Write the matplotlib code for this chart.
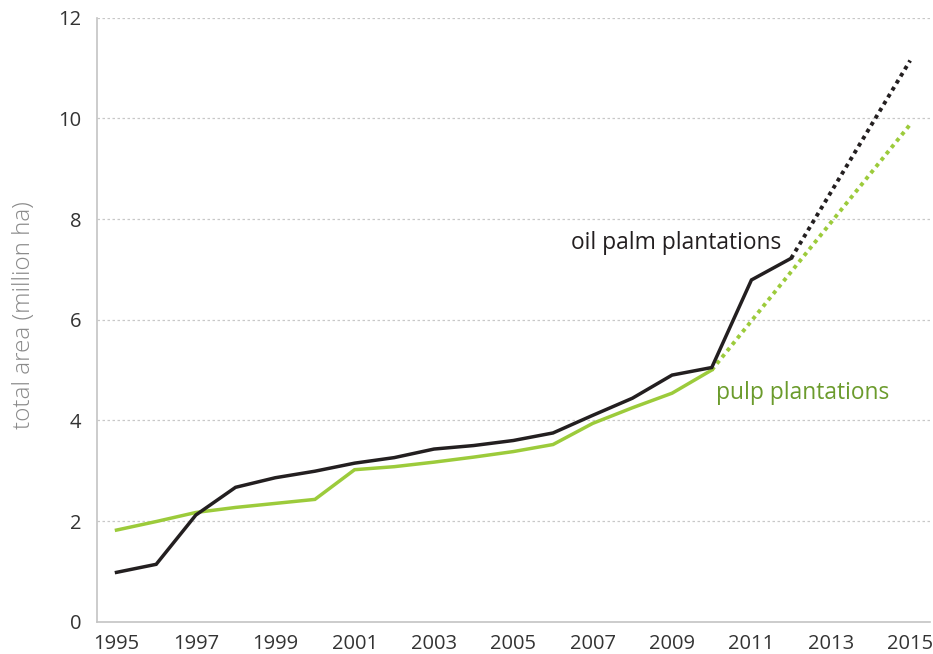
import numpy as np
import matplotlib
matplotlib.use('Agg')
import matplotlib.pyplot as plt

years = list(range(1995, 2013))
oil_palm = [0.98, 1.14, 2.12, 2.67, 2.86, 2.99, 3.15, 3.26, 3.43, 3.50,
            3.60, 3.75, 4.10, 4.44, 4.90, 5.05, 6.79, 7.22]
pulp_years = list(range(1995, 2011))
pulp = [1.82, 1.99, 2.17, 2.27, 2.35, 2.43, 3.02, 3.08, 3.17, 3.27,
        3.38, 3.52, 3.94, 4.25, 4.54, 5.00]

# projections (dotted)
oil_proj_years = [2012, 2015]
oil_proj = [7.22, 11.15]
pulp_proj_years = [2010, 2015]
pulp_proj = [5.00, 9.88]

xticks = list(range(1995, 2016, 2))
yticks = [0, 2, 4, 6, 8, 10, 12]

BLACK = '#231f20'
GREEN = '#9ccb3b'
GREEN_TXT = '#6b9b2c'


def main():
    plt.rcParams['font.family'] = ['Open Sans', 'DejaVu Sans']

    fig = plt.figure(figsize=(9.33, 6.54), dpi=100)
    ax = fig.add_axes([0.1036, 0.0494, 0.8932, 0.9235])

    for y in yticks[1:]:
        ax.axhline(y, color='#c8c8c8', lw=0.9, ls=(0, (2, 2)), zorder=0)

    ax.plot(pulp_years, pulp, color=GREEN, lw=2.5, solid_joinstyle='miter', zorder=2)
    ax.plot(pulp_proj_years, pulp_proj, color=GREEN, lw=2.8, ls=(0, (1, 1.1)), zorder=2)
    ax.plot(years, oil_palm, color=BLACK, lw=2.5, solid_joinstyle='miter', zorder=3)
    ax.plot(oil_proj_years, oil_proj, color=BLACK, lw=2.8, ls=(0, (1, 1.1)), zorder=3)

    ax.text(2011.75, 7.52, 'oil palm plantations', color=BLACK, fontsize=16.4,
            ha='right', va='center')
    ax.text(2010.1, 4.54, 'pulp plantations', color=GREEN_TXT, fontsize=16.4,
            ha='left', va='center')

    ax.set_xlim(1994.5, 2015.5)
    ax.set_ylim(0, 12)
    ax.set_xticks(xticks)
    ax.set_yticks(yticks)
    ax.tick_params(length=0, labelsize=14.5, colors='#333333', pad=9)
    ax.tick_params(axis='y', pad=11)

    for s in ['top', 'right']:
        ax.spines[s].set_visible(False)
    for s in ['left', 'bottom']:
        ax.spines[s].set_color('#c4c4c4')
        ax.spines[s].set_linewidth(1.2)

    ax.set_ylabel('total area (million ha)', fontsize=17.5, color='#8a8a8a',
                  fontweight='light')
    ax.yaxis.set_label_coords(-0.073, 0.508)

    fig.savefig('out.png', dpi=100)


if __name__ == '__main__':
    main()
